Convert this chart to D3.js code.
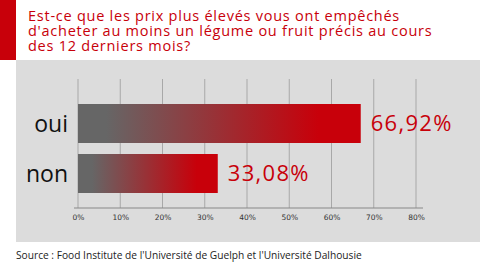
<!DOCTYPE html>
<html lang="fr">
<head>
  <meta charset="UTF-8">
  <script src="https://d3js.org/d3.v7.min.js"></script>
  <style>
    body { margin: 0; background: #fff; }
    svg { display: block; }
  </style>
</head>
<body>
  <div id="wrapper"></div>
  <script>
    const categories = ["oui", "non"]
    const values = [66.92, 33.08]
    const valueLabels = ["66,92%", "33,08%"]
    const tickValues = [0, 10, 20, 30, 40, 50, 60, 70, 80]
    const titleLines = [
      "Est-ce que les prix plus élevés vous ont empêchés",
      "d'acheter au moins un légume ou fruit précis au cours",
      "des 12 derniers mois?"
    ]
    const sourceText = "Source : Food Institute de l'Université de Guelph et l'Université Dalhousie"

    const dimensions = {
      width: 480,
      height: 270,
      panelTop: 60,
      panelBottom: 242,
      panelLeft: 16,
      plotLeft: 78,
      plotRight: 416,
      gridTop: 79,
      axisY: 208
    }

    const red = "#c8000a"

    const svg = d3.select("#wrapper")
      .append("svg")
      .attr("width", dimensions.width)
      .attr("height", dimensions.height)

    const defs = svg.append("defs")
    const grad = defs.append("linearGradient")
      .attr("id", "barGrad")
      .attr("x1", "0%").attr("x2", "100%")
      .attr("y1", "0%").attr("y2", "0%")
    grad.append("stop").attr("offset", "0.1").attr("stop-color", "#666666")
    grad.append("stop").attr("offset", "0.85").attr("stop-color", red)

    // red stripe + grey panel
    svg.append("rect")
      .attr("x", 0).attr("y", 0)
      .attr("width", dimensions.panelLeft).attr("height", dimensions.panelTop)
      .attr("fill", red)

    svg.append("rect")
      .attr("x", dimensions.panelLeft).attr("y", dimensions.panelTop)
      .attr("width", dimensions.width - dimensions.panelLeft)
      .attr("height", dimensions.panelBottom - dimensions.panelTop)
      .attr("fill", "#dcdcdc")

    // title, one text per line
    svg.append("g")
      .selectAll("text")
      .data(titleLines)
      .join("text")
      .attr("x", 28)
      .attr("y", (d, i) => 20.5 + i * 15.3)
      .attr("fill", red)
      .style("font-family", "'Open Sans', sans-serif")
      .style("font-size", "14.5px")
      .style("letter-spacing", "0.75px")
      .text(d => d)

    const xScale = d3.scaleLinear()
      .domain([0, 80])
      .range([dimensions.plotLeft, dimensions.plotRight])

    const yScale = d3.scaleBand()
      .domain(categories)
      .range([98, 199])
      .paddingInner(0.22)
      .paddingOuter(0.12)

    // grid lines
    svg.append("g")
      .selectAll("line")
      .data(tickValues)
      .join("line")
      .attr("x1", d => xScale(d)).attr("x2", d => xScale(d))
      .attr("y1", dimensions.gridTop).attr("y2", dimensions.axisY)
      .attr("stroke", "#a8a8a8")
      .attr("stroke-width", 1)

    // axis
    const xAxis = svg.append("g")
      .attr("transform", `translate(0, ${dimensions.axisY})`)
      .call(d3.axisBottom(xScale)
        .tickValues(tickValues)
        .tickSize(0)
        .tickPadding(7)
        .tickFormat(d => d + "%"))
    xAxis.select(".domain").remove()
    xAxis.append("line")
      .attr("x1", dimensions.plotLeft - 4).attr("x2", dimensions.plotRight + 7)
      .attr("stroke", "#888")
      .attr("stroke-width", 1)
    xAxis.selectAll("text")
      .attr("fill", "#333")
      .style("font-family", "'DejaVu Sans', sans-serif")
      .style("font-size", "7.5px")

    // bars
    svg.append("g")
      .selectAll("rect")
      .data(values)
      .join("rect")
      .attr("x", xScale(0))
      .attr("y", (d, i) => yScale(categories[i]))
      .attr("width", d => xScale(d) - xScale(0))
      .attr("height", yScale.bandwidth())
      .attr("fill", "url(#barGrad)")

    // category labels
    svg.append("g")
      .selectAll("text")
      .data(categories)
      .join("text")
      .attr("x", 68)
      .attr("y", d => yScale(d) + yScale.bandwidth() / 2)
      .attr("dy", "0.35em")
      .attr("text-anchor", "end")
      .attr("fill", "#111")
      .style("font-family", "'Open Sans', sans-serif")
      .style("font-size", "23px")
      .text(d => d)

    // value labels
    svg.append("g")
      .selectAll("text")
      .data(values)
      .join("text")
      .attr("x", d => xScale(d) + 10)
      .attr("y", (d, i) => yScale(categories[i]) + yScale.bandwidth() / 2)
      .attr("dy", "0.36em")
      .attr("fill", red)
      .style("font-family", "'Open Sans', sans-serif")
      .style("font-size", "22px")
      .style("letter-spacing", "1.3px")
      .text((d, i) => valueLabels[i])

    // source
    svg.append("text")
      .attr("x", 16)
      .attr("y", 259)
      .attr("fill", "#222")
      .style("font-family", "'Open Sans', sans-serif")
      .style("font-size", "10.2px")
      .text(sourceText)
  </script>
</body>
</html>
